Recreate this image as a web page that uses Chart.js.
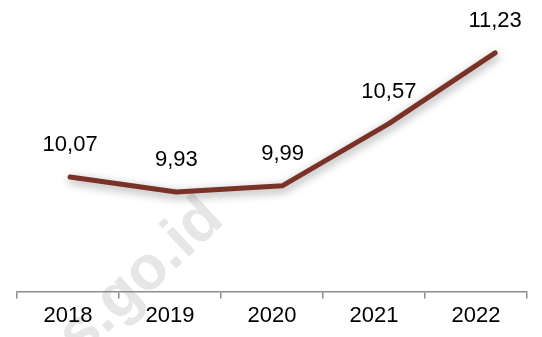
<!DOCTYPE html>
<html>
<head>
<meta charset="utf-8">
<script src="https://cdn.jsdelivr.net/npm/chart.js@4.4.1/dist/chart.umd.min.js"></script>
<style>
    html, body { margin: 0; padding: 0; background: #fff; }
    #wrap { width: 542px; height: 337px; position: relative; }
</style>
</head>
<body>
<div id="wrap"><canvas id="lineChart"></canvas></div>
<script>
// Series data
const years = ['2018', '2019', '2020', '2021', '2022'];
const values = [10.07, 9.93, 9.99, 10.57, 11.23];

const FONT = '"Liberation Sans", Arial, sans-serif';
const LINE_COLOR = '#7a3127';

// Format number with a decimal comma
function formatValue(v) {
    return v.toFixed(2).replace('.', ',');
}

// Faint site watermark behind the plot
const watermark = {
    id: 'watermark',
    beforeDraw(chart) {
        const ctx = chart.ctx;
        ctx.save();
        ctx.translate(226, 222);
        ctx.rotate(-43 * Math.PI / 180);
        ctx.font = 'bold 62px ' + FONT;
        ctx.fillStyle = '#e6e6e6';
        ctx.textAlign = 'right';
        ctx.textBaseline = 'alphabetic';
        ctx.fillText('bps.go.id', 0, 0);
        ctx.restore();
    }
};

// Soft shadow under the line
const lineShadow = {
    id: 'lineShadow',
    beforeDatasetDraw(chart) {
        const ctx = chart.ctx;
        ctx.save();
        ctx.shadowColor = 'rgba(0, 0, 0, 0.4)';
        ctx.shadowBlur = 10;
        ctx.shadowOffsetX = 1;
        ctx.shadowOffsetY = 3;
    },
    afterDatasetDraw(chart) {
        chart.ctx.restore();
    }
};

// Value labels above each point
const valueLabels = {
    id: 'valueLabels',
    afterDatasetsDraw(chart) {
        const ctx = chart.ctx;
        const meta = chart.getDatasetMeta(0);
        ctx.save();
        ctx.font = '22px ' + FONT;
        ctx.fillStyle = '#000';
        ctx.textAlign = 'center';
        ctx.textBaseline = 'middle';
        meta.data.forEach((pt, i) => {
            ctx.fillText(formatValue(values[i]), pt.x, pt.y - 32);
        });
        ctx.restore();
    }
};

new Chart(document.getElementById('lineChart'), {
    type: 'line',
    data: {
        labels: years,
        datasets: [{
            data: values.map((v, i) => ({ x: i, y: v })),
            xAxisID: 'xl',
            borderColor: LINE_COLOR,
            borderWidth: 5,
            borderCapStyle: 'round',
            borderJoinStyle: 'round',
            pointRadius: 0,
            tension: 0,
            fill: false
        }]
    },
    options: {
        responsive: true,
        maintainAspectRatio: false,
        animation: false,
        layout: {
            padding: { left: 17, right: 15, top: 24, bottom: 4 }
        },
        plugins: {
            legend: { display: false },
            tooltip: { enabled: false }
        },
        scales: {
            x: {
                type: 'category',
                offset: true,
                grid: {
                    offset: true,
                    drawOnChartArea: false,
                    drawTicks: true,
                    tickLength: 7,
                    color: '#8c8c8c',
                    lineWidth: 1.5
                },
                border: { color: '#8c8c8c', width: 1.5 },
                ticks: {
                    color: '#000',
                    padding: 4,
                    maxRotation: 0,
                    font: { family: FONT, size: 22 }
                }
            },
            xl: {
                type: 'linear',
                display: false,
                min: -0.5,
                max: 4.3
            },
            y: {
                display: false,
                min: 9,
                max: 11.5
            }
        }
    },
    plugins: [watermark, lineShadow, valueLabels]
});
</script>
</body>
</html>
